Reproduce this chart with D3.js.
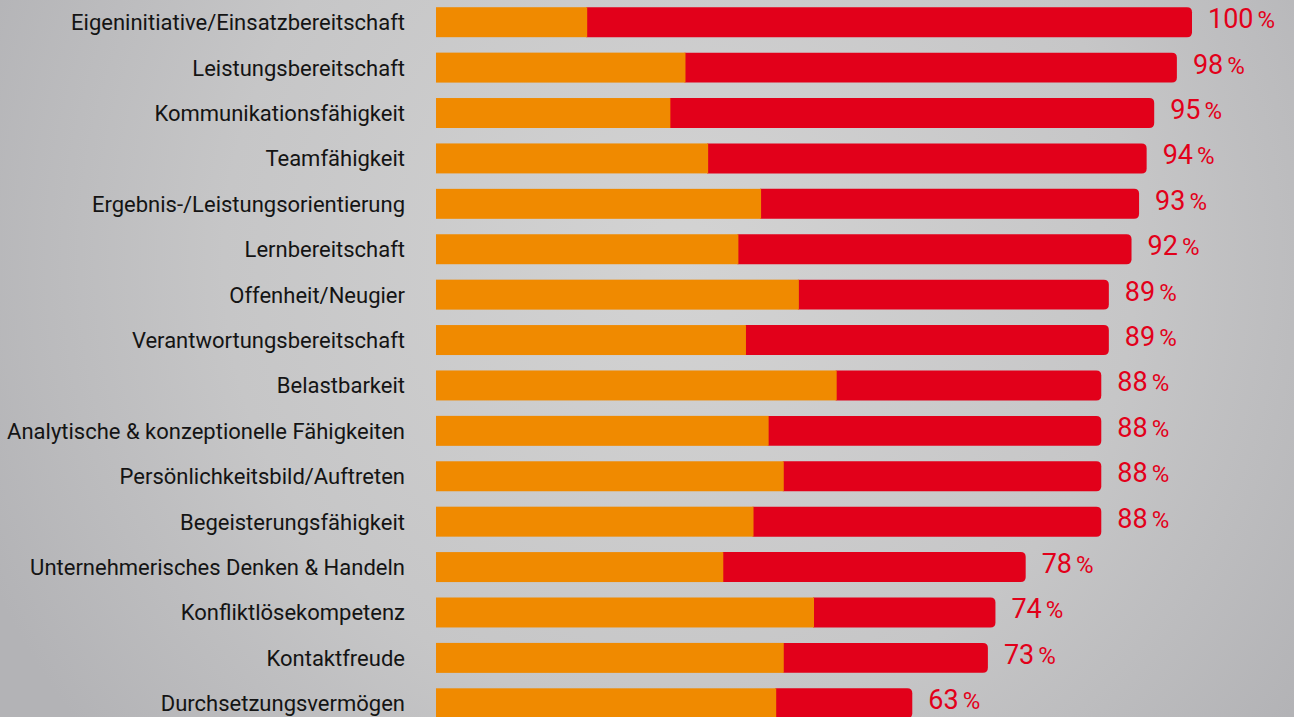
<!DOCTYPE html>
<html>
<head>
<meta charset="utf-8">
<script src="https://cdn.jsdelivr.net/npm/d3@7"></script>
<style>
  html, body { margin: 0; padding: 0; overflow: hidden; }
  svg { display: block; }
</style>
</head>
<body>
<svg id="chart" width="1294" height="717"></svg>
<script>
// categories, top to bottom
var categories = [
    "Eigeninitiative/Einsatzbereitschaft",
    "Leistungsbereitschaft",
    "Kommunikationsfähigkeit",
    "Teamfähigkeit",
    "Ergebnis-/Leistungsorientierung",
    "Lernbereitschaft",
    "Offenheit/Neugier",
    "Verantwortungsbereitschaft",
    "Belastbarkeit",
    "Analytische & konzeptionelle Fähigkeiten",
    "Persönlichkeitsbild/Auftreten",
    "Begeisterungsfähigkeit",
    "Unternehmerisches Denken & Handeln",
    "Konfliktlösekompetenz",
    "Kontaktfreude",
    "Durchsetzungsvermögen"
]
// total share (%) shown at the bar end
var totals = [100, 98, 95, 94, 93, 92, 89, 89, 88, 88, 88, 88, 78, 74, 73, 63]
// orange part of each bar (%)
var orangePart = [20, 33, 31, 36, 43, 40, 48, 41, 53, 44, 46, 42, 38, 50, 46, 45]

var svg = d3.select("#chart"),
    W = 1294,
    H = 717

var colorOrange = "#f08a00",
    colorRed = "#e2001a"

// background gradient
var defs = svg.append("defs")
var grad = defs.append("radialGradient")
    .attr("id", "bg")
    .attr("gradientUnits", "userSpaceOnUse")
    .attr("cx", 680).attr("cy", 260).attr("r", 760)
grad.append("stop").attr("offset", "0%").attr("stop-color", "#d3d3d3")
grad.append("stop").attr("offset", "60%").attr("stop-color", "#c6c6c7")
grad.append("stop").attr("offset", "100%").attr("stop-color", "#b3b3b6")
svg.append("rect").attr("width", W).attr("height", H).attr("fill", "url(#bg)")

var data = categories.map(function(c, i) {
    return { name: c, total: totals[i], orange: orangePart[i], red: totals[i] - orangePart[i] }
})

var x = d3.scaleLinear()
    .domain([0, 100])
    .range([436, 1192])

var y = d3.scaleBand()
    .domain(categories)
    .range([-0.5, 726])
    .paddingInner(0.34)
    .paddingOuter(0.17)

var bh = y.bandwidth()

var rows = svg.append("g").selectAll("g")
    .data(data)
    .enter().append("g")
    .attr("transform", function(d) { return "translate(0," + y(d.name) + ")" })

// red part with rounded right end (drawn first, reaches under orange)
rows.append("path")
    .attr("fill", colorRed)
    .attr("d", function(d) {
        var x0 = x(d.orange) - 1, x1 = x(d.total), r = 5
        return "M" + x0 + ",0H" + (x1 - r) + "Q" + x1 + ",0 " + x1 + "," + r +
            "V" + (bh - r) + "Q" + x1 + "," + bh + " " + (x1 - r) + "," + bh + "H" + x0 + "Z"
    })

rows.append("rect")
    .attr("fill", colorOrange)
    .attr("x", x(0))
    .attr("y", 0)
    .attr("width", function(d) { return x(d.orange) - x(0) })
    .attr("height", bh)

// category labels
rows.append("text")
    .attr("x", 405)
    .attr("y", bh / 2)
    .attr("dy", "0.36em")
    .attr("text-anchor", "end")
    .style("font-family", "Roboto, sans-serif")
    .style("font-size", "22px")
    .style("fill", "#141414")
    .text(function(d) { return d.name })

// value labels
var val = rows.append("text")
    .attr("x", function(d) { return x(d.total) + 16 })
    .attr("y", bh / 2)
    .attr("dy", "0.37em")
    .style("font-family", "Roboto, sans-serif")
    .style("fill", colorRed)
val.append("tspan")
    .style("font-size", "27px")
    .text(function(d) { return d.total })
val.append("tspan")
    .attr("dx", 4)
    .style("font-size", "24px")
    .text("%")
</script>
</body>
</html>
